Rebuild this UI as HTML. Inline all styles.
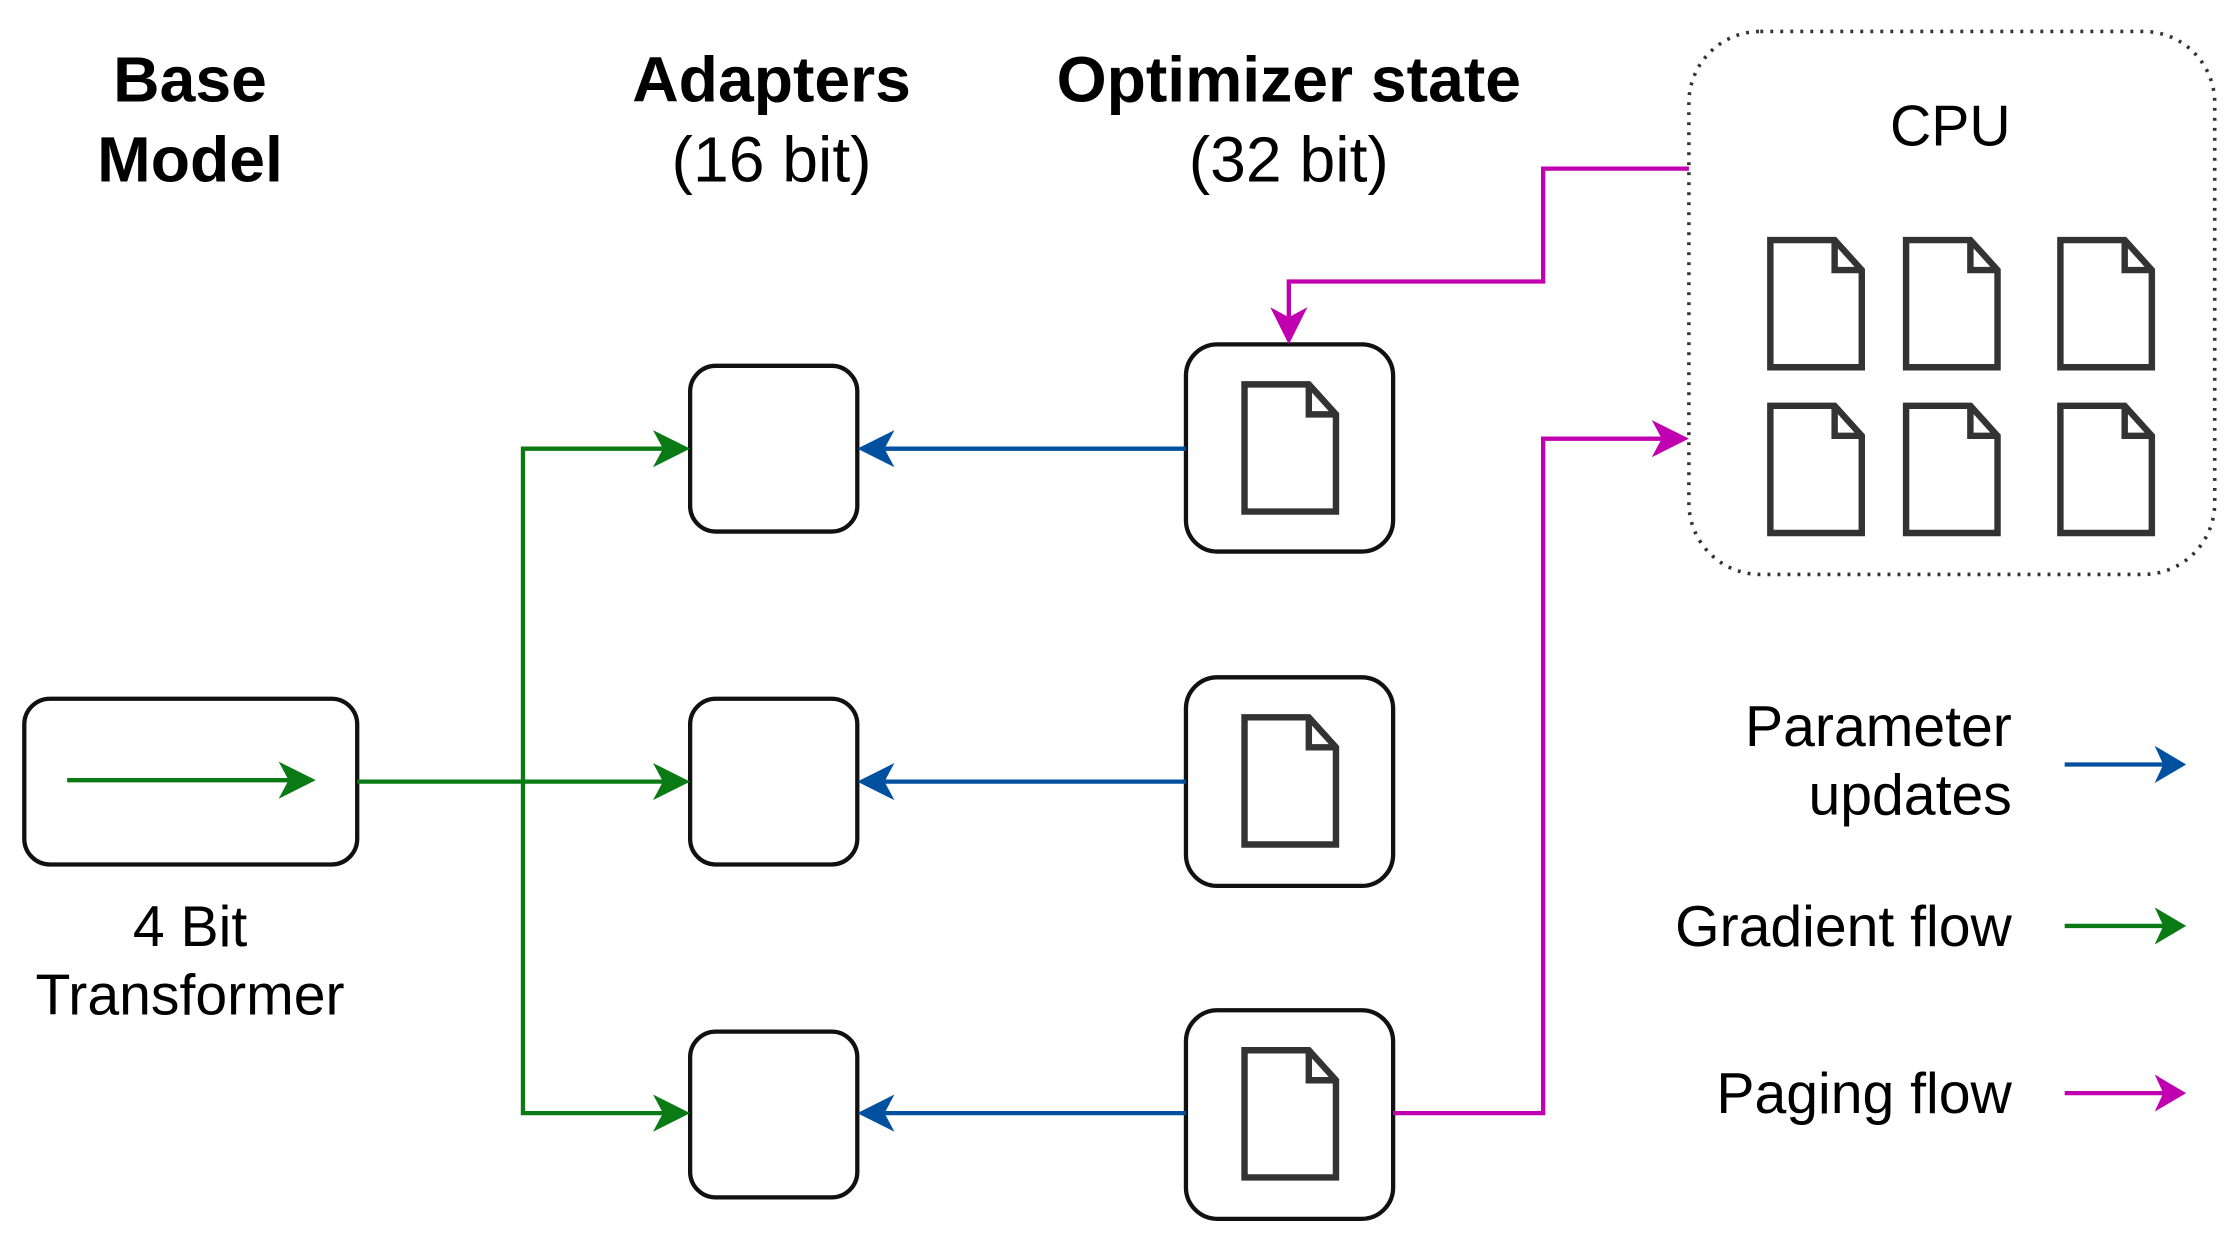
<!DOCTYPE html>
<html><head><meta charset="utf-8"><style>html,body{margin:0;padding:0;background:#fff;}svg{display:block}svg text{font-family:"Liberation Sans",Arial,sans-serif;}</style></head>
<body>
<svg width="2229" height="1241" viewBox="0 0 1560 868.5" preserveAspectRatio="none" xmlns="http://www.w3.org/2000/svg">
<defs>
<g id="doc"><path d="M0,0 H45 L64,21 V89 H0 Z M45,0 V21 H64" fill="none" stroke="#333" stroke-width="4.5" stroke-linejoin="miter"/></g>
</defs>
<g font-size="45" text-anchor="middle" fill="#000">
<text x="133" y="71" font-weight="bold">Base</text>
<text x="133" y="127" font-weight="bold">Model</text>
<text x="540" y="71" font-weight="bold">Adapters</text>
<text x="540" y="127">(16 bit)</text>
<text x="902" y="71" font-weight="bold">Optimizer state</text>
<text x="902" y="127">(32 bit)</text>
</g>
<rect x="1182" y="22" width="368" height="380" rx="50" fill="none" stroke="#333" stroke-width="2.5" stroke-dasharray="2,5"/>
<text x="1365" y="102" font-size="40" text-anchor="middle">CPU</text>
<use href="#doc" x="1239" y="168"/><use href="#doc" x="1334" y="168"/><use href="#doc" x="1442" y="168"/>
<use href="#doc" x="1239" y="284"/><use href="#doc" x="1334" y="284"/><use href="#doc" x="1442" y="284"/>
<rect x="17" y="489" width="233" height="116" rx="18" fill="none" stroke="#111" stroke-width="3"/>
<line x1="47" y1="546" x2="205" y2="546" stroke="#0a7a14" stroke-width="3"/>
<path d="M195,533 L221,546 L195,559 L202,546 Z" fill="#0a7a14"/>
<text x="133" y="662" font-size="40" text-anchor="middle">4 Bit</text>
<text x="133" y="710" font-size="40" text-anchor="middle">Transformer</text>
<rect x="483" y="256" width="117" height="116" rx="18" fill="none" stroke="#111" stroke-width="3"/>
<rect x="483" y="489" width="117" height="116" rx="18" fill="none" stroke="#111" stroke-width="3"/>
<rect x="483" y="722" width="117" height="116" rx="18" fill="none" stroke="#111" stroke-width="3"/>
<rect x="830" y="241" width="145" height="145" rx="22" fill="none" stroke="#111" stroke-width="3"/>
<rect x="830" y="474" width="145" height="146" rx="22" fill="none" stroke="#111" stroke-width="3"/>
<rect x="830" y="707" width="145" height="146" rx="22" fill="none" stroke="#111" stroke-width="3"/>
<use href="#doc" x="871" y="269"/><use href="#doc" x="871" y="502"/><use href="#doc" x="871" y="735"/>
<g stroke="#0a7a14" stroke-width="3" fill="none">
<polyline points="250,547 470,547"/>
<polyline points="470,314 366,314 366,779 470,779"/>
</g>
<g fill="#0a7a14">
<path d="M457,301 L483,314 L457,327 L464,314 Z"/>
<path d="M457,534 L483,547 L457,560 L464,547 Z"/>
<path d="M457,766 L483,779 L457,792 L464,779 Z"/>
</g>
<g stroke="#0050a0" stroke-width="3">
<line x1="830" y1="314" x2="612" y2="314"/>
<line x1="830" y1="547" x2="612" y2="547"/>
<line x1="830" y1="779" x2="612" y2="779"/>
</g>
<g fill="#0050a0">
<path d="M626,301 L600,314 L626,327 L619,314 Z"/>
<path d="M626,534 L600,547 L626,560 L619,547 Z"/>
<path d="M626,766 L600,779 L626,792 L619,779 Z"/>
</g>
<g stroke="#c000b0" stroke-width="3" fill="none">
<polyline points="1182,118 1080,118 1080,197 902,197 902,228"/>
<polyline points="975,779 1080,779 1080,307 1170,307"/>
</g>
<g fill="#c000b0">
<path d="M889,215 L902,241 L915,215 L902,222 Z"/>
<path d="M1156,294 L1182,307 L1156,320 L1163,307 Z"/>
</g>
<g font-size="40" text-anchor="end">
<text x="1408" y="522">Parameter</text>
<text x="1408" y="570">updates</text>
<text x="1408" y="662">Gradient flow</text>
<text x="1408" y="779">Paging flow</text>
</g>
<line x1="1445" y1="535" x2="1518" y2="535" stroke="#0050a0" stroke-width="3"/>
<path d="M1508,522 L1530,535 L1508,548 L1514,535 Z" fill="#0050a0"/>
<line x1="1445" y1="648" x2="1518" y2="648" stroke="#0a7a14" stroke-width="3"/>
<path d="M1508,635 L1530,648 L1508,661 L1514,648 Z" fill="#0a7a14"/>
<line x1="1445" y1="765" x2="1518" y2="765" stroke="#c000b0" stroke-width="3"/>
<path d="M1508,752 L1530,765 L1508,778 L1514,765 Z" fill="#c000b0"/>
</svg>
</body></html>
